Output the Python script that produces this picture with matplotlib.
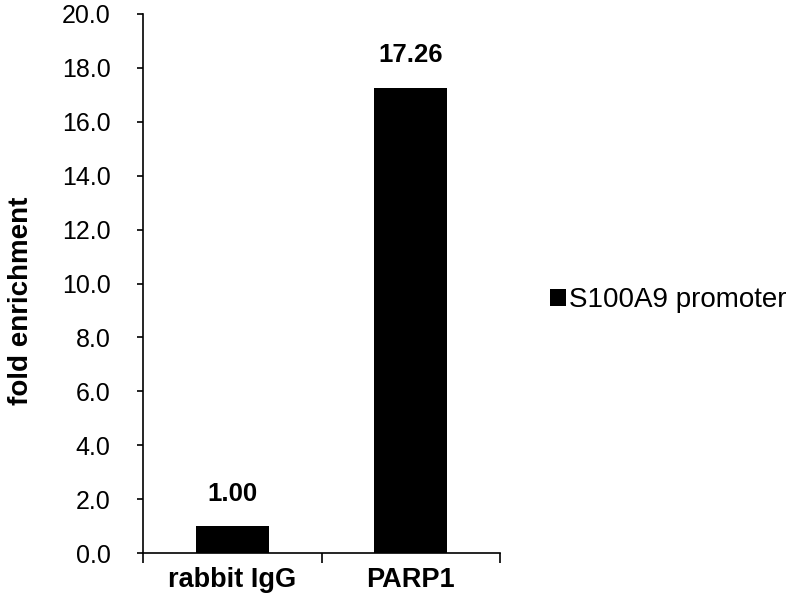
import matplotlib.pyplot as plt

categories = ['rabbit IgG', 'PARP1']
values = [1.00, 17.26]
labels = ['1.00', '17.26']
series_name = 'S100A9 promoter'

plt.rcParams['font.family'] = ['Liberation Sans', 'DejaVu Sans']
fig = plt.figure(figsize=(8, 6), dpi=100)
ax = fig.add_axes([0.179, 0.078, 0.446, 0.899])

x = range(len(categories))
bars = ax.bar(x, values, width=0.41, color='black', label=series_name)
for b, t in zip(bars, labels):
    ax.text(b.get_x() + b.get_width() / 2, b.get_height() + 0.95, t,
            ha='center', va='baseline', fontsize=18.5, fontweight='bold')

ax.set_xlim(-0.5, 1.5)
ax.set_ylim(0, 20)
ax.set_yticks([i * 2 for i in range(11)])
ax.set_yticklabels([f'{i * 2:.1f}' for i in range(11)], fontsize=18)
ax.tick_params(axis='y', length=4.5, width=1.2, pad=19)

# category boundaries carry the ticks, labels sit at centres
ax.set_xticks([-0.5, 0.5, 1.5])
ax.set_xticklabels([])
ax.tick_params(axis='x', length=7, width=1.2)
for i, c in enumerate(categories):
    ax.text(i, -0.5, c, ha='center', va='top',
            fontsize=19.5, fontweight='bold')

ax.spines['top'].set_visible(False)
ax.spines['right'].set_visible(False)
ax.spines['left'].set_linewidth(1.2)
ax.spines['bottom'].set_linewidth(1.2)

fig.text(0.026, 0.498, 'fold enrichment', rotation=90, ha='center', va='center',
         fontsize=20, fontweight='bold')

ax.legend(loc='center left', bbox_to_anchor=(550 / 800, 0.5),
          bbox_transform=fig.transFigure, frameon=False, borderpad=0,
          borderaxespad=0, fontsize=20, handlelength=0.58, handleheight=0.58,
          handletextpad=0.12)

fig.savefig('out.png', dpi=100)
